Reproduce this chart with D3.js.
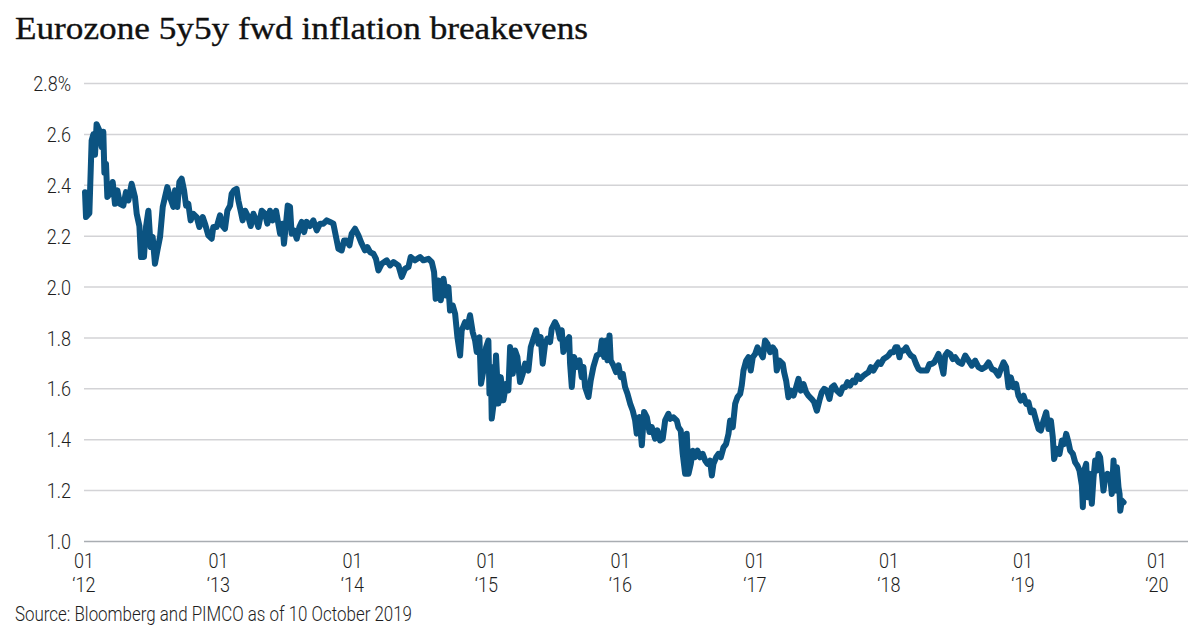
<!DOCTYPE html>
<html>
<head>
<meta charset="utf-8">
<script src="https://cdn.jsdelivr.net/npm/d3@7"></script>
<style>
  html, body { margin: 0; padding: 0; background: #fff; }
  svg { display: block; }
</style>
</head>
<body>
<svg id="chart" width="1200" height="630"></svg>
<script>
// ---------- DATA ----------
const title = "Eurozone 5y5y fwd inflation breakevens";
const source = "Source: Bloomberg and PIMCO as of 10 October 2019";
const yTicks = [1.0, 1.2, 1.4, 1.6, 1.8, 2.0, 2.2, 2.4, 2.6, 2.8];
const xTickYears = [2012, 2013, 2014, 2015, 2016, 2017, 2018, 2019, 2020];

// time in years since 1 Jan 2012
const yearsSince2012 = [
0.0075,0.015,0.040,0.057,0.070,0.082,0.094,0.114,0.132,0.144,0.152,0.164,0.174,0.194,0.214,0.231,0.249,0.268,0.293,0.313,
0.331,0.355,0.380,0.393,0.413,0.425,0.437,0.447,0.462,0.480,0.497,0.512,0.529,0.547,0.567,0.587,0.604,0.621,0.641,0.666,
0.679,0.696,0.711,0.728,0.746,0.761,0.778,0.795,0.815,0.840,0.860,0.885,0.902,0.927,0.952,0.964,0.989,1.014,1.034,1.051,
1.069,1.089,1.101,1.119,1.138,1.151,1.168,1.183,1.201,1.225,1.243,1.263,1.283,1.300,1.325,1.350,1.367,1.387,1.407,1.432,
1.449,1.462,1.479,1.491,1.506,1.519,1.536,1.548,1.566,1.586,1.606,1.623,1.641,1.660,1.685,1.710,1.735,1.760,1.785,1.810,
1.834,1.859,1.879,1.897,1.921,1.939,1.959,1.979,1.996,2.021,2.046,2.071,2.095,2.113,2.133,2.158,2.177,2.195,
2.220,2.257,2.282,2.307,2.344,2.369,2.394,2.419,2.436,2.468,2.506,2.530,2.568,2.593,2.610,2.622,2.642,2.660,2.680,2.699,
2.717,2.729,2.749,2.767,2.784,2.804,2.816,2.841,2.859,2.878,2.898,2.916,2.928,2.948,2.960,2.978,2.998,3.015,3.023,3.033,
3.040,3.057,3.072,3.090,3.107,3.127,3.147,3.164,3.177,3.197,3.214,3.231,3.251,3.271,3.289,3.313,3.331,3.351,3.371,3.388,
3.405,3.420,3.438,3.455,3.475,3.487,3.512,3.530,3.550,3.562,3.574,3.599,3.617,3.624,3.637,3.654,3.674,3.694,3.711,3.724,
3.736,3.761,3.778,3.798,3.823,3.848,3.860,3.878,3.893,3.903,3.918,3.927,3.947,3.967,3.985,4.002,4.017,4.034,4.052,4.072,
4.091,4.109,4.121,4.141,4.159,4.176,4.196,4.216,4.233,4.258,4.275,4.295,4.315,4.333,4.357,
4.370,4.395,4.420,4.432,4.449,4.464,4.482,4.494,4.507,4.524,4.539,4.556,4.574,4.594,4.613,4.631,4.648,4.668,4.681,4.693,
4.713,4.730,4.748,4.768,4.787,4.805,4.817,4.837,4.855,4.872,4.892,4.904,4.917,4.937,4.954,4.971,4.986,5.004,5.021,5.041,
5.061,5.078,5.096,5.116,5.135,5.153,5.165,5.185,5.210,5.220,5.235,5.252,5.270,5.290,5.309,5.327,5.344,5.364,5.384,5.401,
5.426,5.444,5.464,5.483,5.501,5.518,5.538,5.558,5.575,5.593,5.613,5.638,5.657,5.675,5.692,5.712,5.732,5.749,5.767,5.787,
5.812,5.831,5.849,5.866,5.886,5.906,5.923,5.941,5.961,5.981,5.998,6.015,6.035,6.050,6.065,6.080,6.090,6.110,6.130,6.147,
6.165,6.185,6.204,6.222,6.239,6.259,6.284,6.304,6.321,6.339,6.359,6.371,6.388,6.408,6.421,6.438,6.458,6.478,6.495,6.520,
6.545,6.570,6.595,6.619,6.644,6.669,6.694,6.719,6.744,6.769,6.793,6.818,6.836,6.856,6.875,6.893,6.910,6.930,6.950,6.967,
6.985,7.005,7.025,7.042,7.059,7.079,7.099,7.117,7.134,7.154,7.174,7.191,7.209,7.223,7.233,7.253,7.273,7.291,7.308,7.323,
7.340,7.353,7.373,7.390,7.407,7.422,7.440,7.447,7.457,7.472,7.482,7.497,7.514,7.527,7.539,7.552,7.564,7.576,7.589,7.601,
7.614,7.631,7.651,7.663,7.676,7.688,7.701,7.713,7.721,7.726,7.738,7.751
];

// breakeven level, %
const breakevens = [
2.373,2.275,2.29,2.576,2.60,2.52,2.64,2.616,2.55,2.61,2.45,2.485,2.354,2.367,2.413,2.327,2.38,2.327,2.32,2.373,
2.34,2.406,2.354,2.288,2.24,2.118,2.21,2.118,2.235,2.30,2.157,2.197,2.092,2.144,2.197,2.315,2.354,2.393,2.354,2.315,
2.38,2.315,2.413,2.426,2.38,2.32,2.327,2.262,2.288,2.275,2.236,2.275,2.249,2.203,2.19,2.236,2.236,2.282,2.24,2.229,
2.30,2.32,2.367,2.38,2.386,2.34,2.30,2.262,2.30,2.275,2.24,2.288,2.262,2.236,2.30,2.288,2.249,2.30,2.262,2.30,
2.249,2.21,2.249,2.17,2.249,2.32,2.315,2.21,2.223,2.19,2.236,2.256,2.216,2.256,2.24,2.262,2.223,2.249,2.249,2.262,
2.256,2.249,2.197,2.15,2.144,2.183,2.183,2.164,2.21,2.229,2.203,2.17,2.144,2.157,2.137,2.131,2.111,2.065,
2.092,2.105,2.085,2.098,2.085,2.04,2.072,2.079,2.118,2.105,2.118,2.105,2.111,2.098,2.059,1.954,2.026,1.948,2.033,1.967,
2.0,1.908,1.928,1.895,1.803,1.731,1.83,1.862,1.843,1.889,1.823,1.79,1.745,1.803,1.62,1.672,1.764,1.79,1.581,1.686,
1.483,1.555,1.731,1.542,1.646,1.555,1.62,1.594,1.764,1.659,1.751,1.725,1.627,1.659,1.699,1.672,1.764,1.797,1.83,1.777,
1.803,1.699,1.777,1.797,1.784,1.836,1.862,1.843,1.797,1.83,1.745,1.79,1.803,1.699,1.607,1.725,1.686,1.712,1.646,1.686,
1.607,1.568,1.633,1.686,1.731,1.738,1.79,1.725,1.79,1.712,1.81,1.712,1.692,1.666,1.692,1.646,1.659,1.607,1.581,1.542,
1.515,1.476,1.424,1.489,1.378,1.509,1.489,1.43,1.45,1.404,1.437,1.397,1.404,1.476,1.502,
1.482,1.488,1.475,1.449,1.436,1.344,1.266,1.423,1.266,1.305,1.357,1.331,1.357,1.331,1.344,1.318,1.305,1.318,1.259,1.305,
1.331,1.344,1.331,1.37,1.383,1.423,1.475,1.449,1.541,1.567,1.58,1.613,1.672,1.711,1.724,1.672,1.724,1.737,1.763,1.744,
1.724,1.79,1.776,1.744,1.763,1.75,1.672,1.711,1.698,1.665,1.632,1.567,1.593,1.573,1.606,1.639,1.593,1.619,1.587,1.573,
1.56,1.547,1.514,1.554,1.587,1.6,1.593,1.56,1.606,1.613,1.593,1.58,1.606,1.606,1.626,1.613,1.632,1.626,1.652,1.639,
1.652,1.659,1.665,1.685,1.672,1.691,1.704,1.698,1.717,1.724,1.731,1.744,1.744,1.763,1.763,1.724,1.75,1.75,1.763,1.744,
1.731,1.724,1.698,1.678,1.672,1.672,1.672,1.698,1.698,1.704,1.724,1.737,1.704,1.659,1.731,1.744,1.737,1.717,1.724,1.705,
1.698,1.731,1.711,1.691,1.711,1.685,1.678,1.685,1.704,1.678,1.672,1.652,1.678,1.704,1.685,1.606,1.645,1.606,1.619,1.573,
1.554,1.573,1.541,1.547,1.508,1.514,1.475,1.442,1.436,1.475,1.508,1.442,1.475,1.41,1.324,1.364,1.344,1.397,1.383,1.423,
1.39,1.357,1.344,1.311,1.298,1.279,1.22,1.135,1.279,1.305,1.174,1.266,1.148,1.253,1.318,1.279,1.344,1.331,1.266,1.2,
1.253,1.266,1.253,1.187,1.318,1.2,1.292,1.213,1.187,1.121,1.161,1.154
];

// ---------- CHART ----------
const svg = d3.select("#chart");
const base = new Date(2012, 0, 1).getTime();
const MS_YEAR = 365.25 * 24 * 3600 * 1000;
const data = yearsSince2012.map((t, i) => ({ date: new Date(base + t * MS_YEAR), v: breakevens[i] }));

const x = d3.scaleTime()
  .domain([new Date(2012, 0, 1), new Date(2020, 0, 1)])
  .range([84, 1157]);
const y = d3.scaleLinear().domain([1.0, 2.8]).range([541.5, 83.5]);
const gridRight = 1188;

const labelFont = "'Roboto', 'Liberation Sans', sans-serif";
const labelSize = 21;
const squeeze = 0.86;   // condensed look
const labelColor = "#1e1e1e";

// title
svg.append("text")
  .attr("x", 15).attr("y", 39)
  .attr("font-family", "'Liberation Serif', 'DejaVu Serif', serif")
  .attr("font-size", 32)
  .attr("fill", "#111")
  .attr("stroke", "#111")
  .attr("stroke-width", 0.35)
  .attr("textLength", 573)
  .attr("lengthAdjust", "spacingAndGlyphs")
  .text(title);

// gridlines
svg.append("g").selectAll("line")
  .data(yTicks)
  .join("line")
  .attr("x1", x(new Date(2012, 0, 1)))
  .attr("x2", gridRight)
  .attr("y1", d => y(d)).attr("y2", d => y(d))
  .attr("stroke", d => d === 1.0 ? "#a9adb2" : "#d3d3d6")
  .attr("stroke-width", 1.5);

// y labels
svg.append("g").selectAll("text")
  .data(yTicks)
  .join("text")
  .attr("transform", d => `translate(71,${y(d)}) scale(${squeeze},1)`)
  .attr("dy", "0.36em")
  .attr("text-anchor", "end")
  .attr("font-family", labelFont)
  .attr("font-weight", 300)
  .attr("font-size", labelSize)
  .attr("fill", labelColor)
  .text(d => d3.format(".1f")(d) + (d === 2.8 ? "%" : ""));

// x labels
const xl = svg.append("g").selectAll("text")
  .data(xTickYears)
  .join("text")
  .attr("transform", d => `translate(${x(new Date(d, 0, 1))},0) scale(${squeeze},1)`)
  .attr("text-anchor", "middle")
  .attr("font-family", labelFont)
  .attr("font-weight", 300)
  .attr("font-size", labelSize)
  .attr("fill", labelColor);
xl.append("tspan")
  .attr("x", 0)
  .attr("y", 568)
  .text("01");
xl.append("tspan")
  .attr("x", 0)
  .attr("y", 592)
  .text(d => "\u2018" + String(d).slice(2));

// line
const line = d3.line()
  .x(d => x(d.date))
  .y(d => y(d.v))
  .curve(d3.curveLinear);

svg.append("path")
  .datum(data)
  .attr("d", line)
  .attr("fill", "none")
  .attr("stroke", "#0b5381")
  .attr("stroke-width", 6)
  .attr("stroke-linejoin", "round")
  .attr("stroke-linecap", "round");

// source
svg.append("text")
  .attr("x", 15).attr("y", 621)
  .attr("font-family", labelFont)
  .attr("font-weight", 300)
  .attr("font-size", 20)
  .attr("fill", labelColor)
  .attr("textLength", 397)
  .attr("lengthAdjust", "spacingAndGlyphs")
  .text(source);
</script>
</body>
</html>
